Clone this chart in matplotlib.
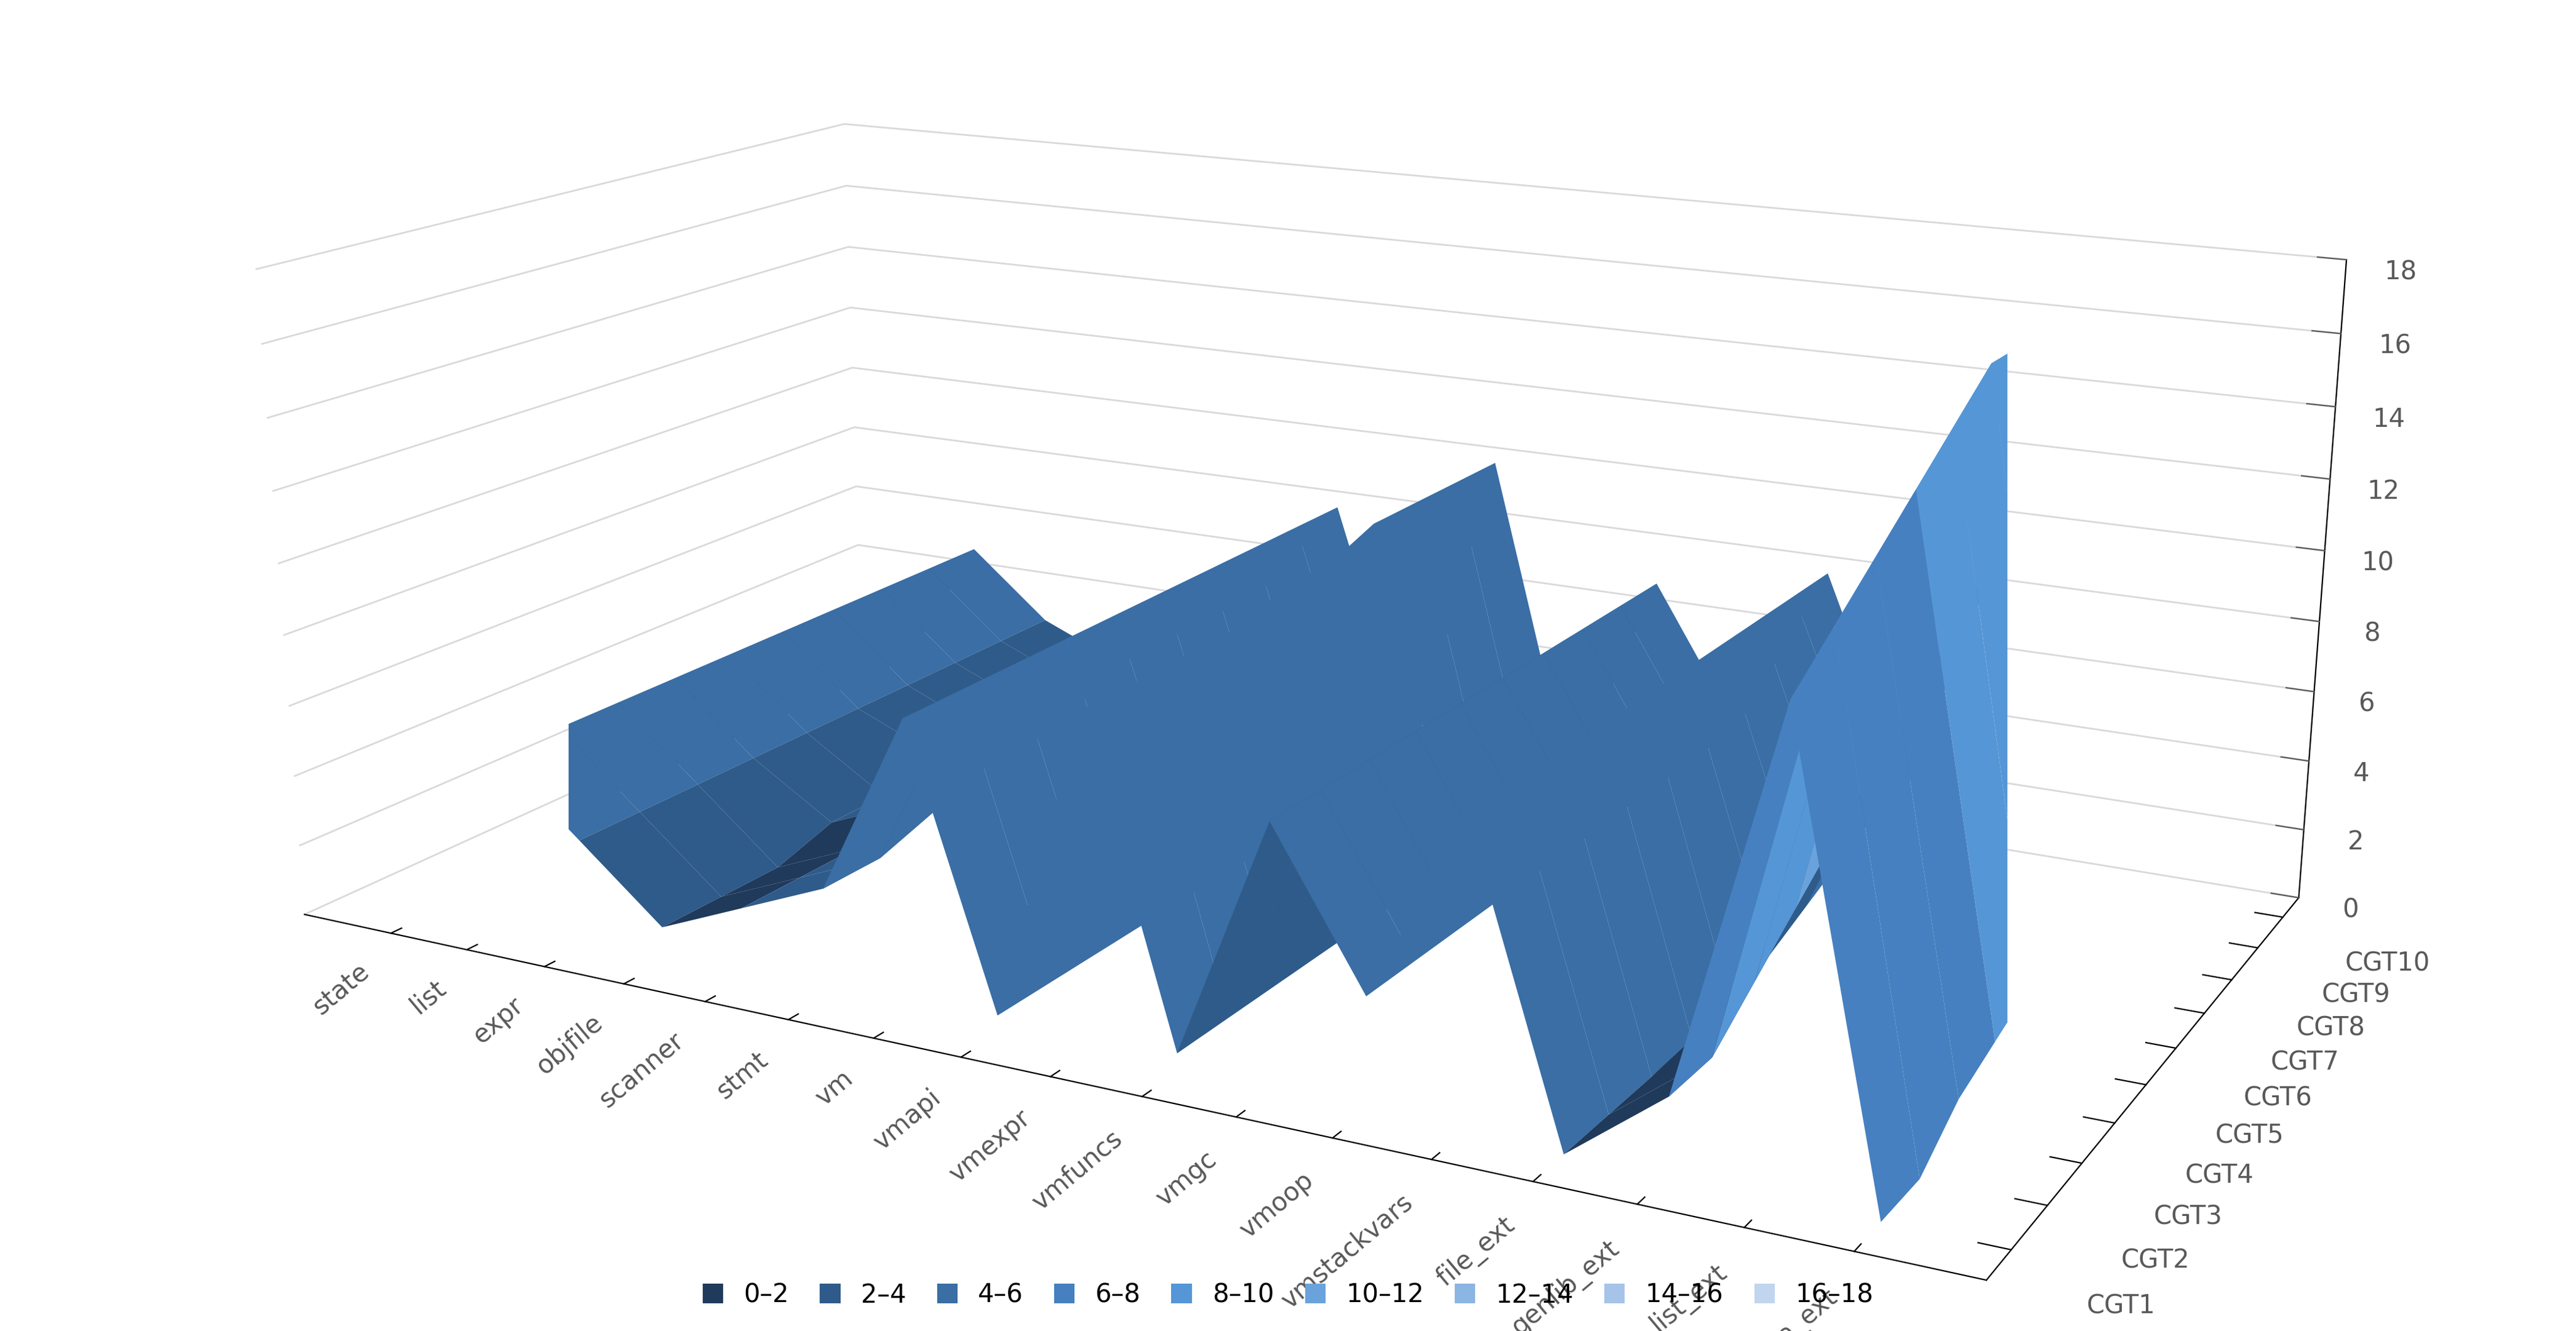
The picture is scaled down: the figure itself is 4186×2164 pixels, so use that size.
import matplotlib.pyplot as plt
import numpy as np
from matplotlib.colors import BoundaryNorm, ListedColormap
from matplotlib.patches import Patch

categories = ["state", "list", "expr", "objfile", "scanner", "stmt", "vm", "vmapi", "vmexpr",
              "vmfuncs", "vmgc", "vmoop", "vmstackvars", "file_ext", "genlib_ext", "list_ext", "refmeta_ext"]
series = [f"CGT{i}" for i in range(1, 11)]

# values[category][series]
values = np.array([
    [1, 1, 1, 1, 1, 1, 1, 1, 1, 1],
    [5, 5, 5, 5, 5, 5, 5, 5, 5, 5],
    [3, 3, 3, 3, 3, 3, 3, 3, 3, 3],
    [1, 1, 1, 1.5, 1.5, 2, 2, 2, 2, 2],
    [2, 2, 2, 2.5, 3, 3, 3, 3.5, 4, 4],
    [3, 3, 3.5, 4, 4, 4.5, 5, 5, 5, 5],
    [8, 8, 8, 8, 8, 8, 8, 8, 8, 8],
    [0.5, 0.5, 0.5, 0.5, 0.5, 0.5, 0.5, 0.5, 0.5, 0.5],
    [9, 9, 9, 9, 9.5, 9.5, 10, 10, 10, 10],
    [0.5, 0.5, 0.5, 0.5, 0.5, 0.5, 0.5, 0.5, 0.5, 0.5],
    [7, 7, 7, 7, 7, 7, 7, 7, 7, 7],
    [3, 3, 3, 3, 3, 3, 3, 3, 3, 3],
    [8, 8, 8, 8, 8, 8, 8, 8, 8, 8],
    [0, 0, 0, 0, 0, 0.5, 1, 1.5, 2, 2],
    [2, 2, 3, 4, 5, 6, 7, 8, 9, 10],
    [12, 13, 14, 15, 16, 17, 17, 18, 17, 18],
    [0, 0, 1, 1.5, 2, 2.5, 3, 3.5, 4, 4],
])

band_colors = ["#203a5c", "#2f5b8a", "#3a6ea5", "#4680c0", "#5596d6",
               "#6aa3dc", "#8bb5e2", "#a5c4e8", "#c2d5ef"]
band_labels = ["0\u20132", "2\u20134", "4\u20136", "6\u20138", "8\u201310",
               "10\u201312", "12\u201314", "14\u201316", "16\u201318"]
levels = np.arange(0, 20, 2)

fig = plt.figure(figsize=(20.93, 10.82), dpi=200)
ax = fig.add_axes([-0.02, 0.0, 1.04, 1.08], projection="3d")
ax.set_proj_type("persp", focal_length=0.5)

X, Y = np.meshgrid(np.arange(len(categories)), np.arange(len(series)), indexing="ij")
cmap = ListedColormap(band_colors)
norm = BoundaryNorm(levels, cmap.N)
ax.plot_surface(X, Y, values, cmap=cmap, norm=norm, linewidth=0, antialiased=True, shade=True)

ax.set_zlim(0, 18)
ax.set_zticks(levels)
ax.set_xticks(np.arange(len(categories)))
ax.set_xticklabels(categories, rotation=40, ha="right", va="top", fontsize=15, color="#595959")
ax.set_yticks(np.arange(len(series)))
ax.set_yticklabels(series, fontsize=15, color="#595959", ha="left")
ax.tick_params(axis="z", labelsize=15, colors="#595959")
ax.tick_params(axis="y", pad=8)
ax.set_box_aspect((3.2, 1.8, 1.2), zoom=1.45)
ax.view_init(elev=16, azim=-62)

for axis in (ax.xaxis, ax.yaxis, ax.zaxis):
    axis.set_pane_color((1, 1, 1, 0))
    axis._axinfo["grid"]["color"] = "#d9d9d9"
    axis._axinfo["grid"]["linewidth"] = 1.0
    axis._axinfo["tick"]["inward_factor"] = 0
    axis._axinfo["tick"]["outward_factor"] = 0.2
ax.xaxis._axinfo["grid"]["linewidth"] = 0
ax.yaxis._axinfo["grid"]["linewidth"] = 0

handles = [Patch(facecolor=c, label=l) for c, l in zip(band_colors, band_labels)]
fig.legend(handles=handles, loc="lower center", ncol=9, frameon=False, fontsize=15,
           handlelength=0.8, handleheight=0.8, columnspacing=1.2, bbox_to_anchor=(0.5, 0.0))

fig.savefig("out.png")
